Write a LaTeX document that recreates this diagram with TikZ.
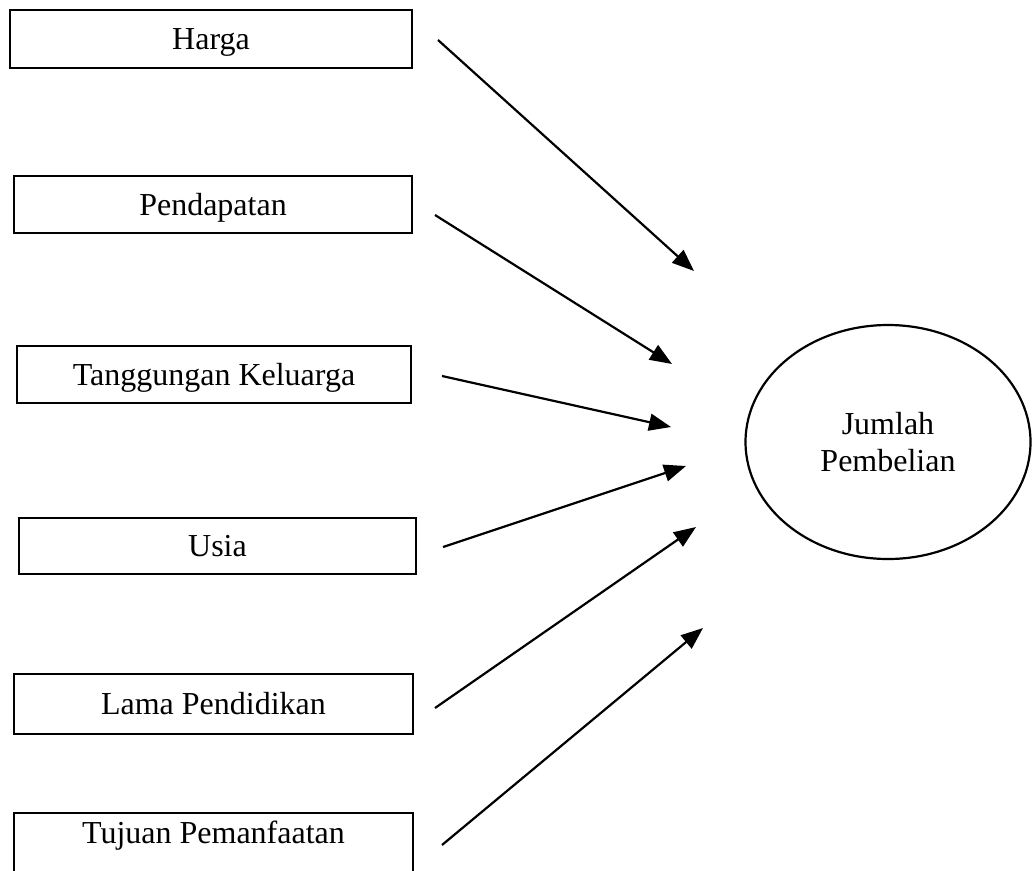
\documentclass[tikz,border=0pt]{standalone}
\usepackage{fontspec}
\setmainfont{Liberation Serif}
\usetikzlibrary{arrows.meta,shapes.geometric}
\begin{document}
\begin{tikzpicture}[x=1pt,y=-1pt,
  varbox/.style={draw, line width=2.2pt, rectangle, inner sep=0pt,
    font=\fontsize{32}{37}\selectfont, text height=25pt, text depth=4pt},
  outcome/.style={draw, line width=2.2pt, ellipse, inner sep=0pt, align=center,
    minimum width=285pt, minimum height=234pt,
    font=\fontsize{32}{37}\selectfont},
  link/.style={line width=2.2pt, -{Triangle[length=22pt,width=17pt]}},
  plain/.style={inner sep=0pt, font=\fontsize{32}{37}\selectfont, text height=25pt, text depth=4pt}
]
\useasboundingbox (0,0) rectangle (1032,870);

\node[varbox, minimum width=402pt, minimum height=58pt] (harga) at (211,39) {Harga};
\node[varbox, minimum width=398pt, minimum height=57pt] (pendapatan) at (213,204.5) {Pendapatan};
\node[varbox, minimum width=394pt, minimum height=57pt] (tanggungan) at (214,374.5) {Tanggungan Keluarga};
\node[varbox, minimum width=397pt, minimum height=56pt] (usia) at (217.5,546) {Usia};
\node[varbox, minimum width=399pt, minimum height=60pt] (lama) at (213.5,704) {Lama Pendidikan};
\node[varbox, minimum width=399pt, minimum height=62pt] (tujuan) at (213.5,844) {};
\node[plain] (tujuantext) at (213.5,833) {Tujuan Pemanfaatan};

\node[outcome] (jumlah) at (888,442) {Jumlah\\Pembelian};

\coordinate (s1) at (438,40);  \coordinate (e1) at (694,271);
\coordinate (s2) at (435,215); \coordinate (e2) at (672,364);
\coordinate (s3) at (442,376); \coordinate (e3) at (671,427);
\coordinate (s4) at (443,547); \coordinate (e4) at (686,466);
\coordinate (s5) at (435,708); \coordinate (e5) at (696,527);
\coordinate (s6) at (442,845); \coordinate (e6) at (703,628);

\draw[link] (s1) -- (e1);
\draw[link] (s2) -- (e2);
\draw[link] (s3) -- (e3);
\draw[link] (s4) -- (e4);
\draw[link] (s5) -- (e5);
\draw[link] (s6) -- (e6);
\end{tikzpicture}
\end{document}
